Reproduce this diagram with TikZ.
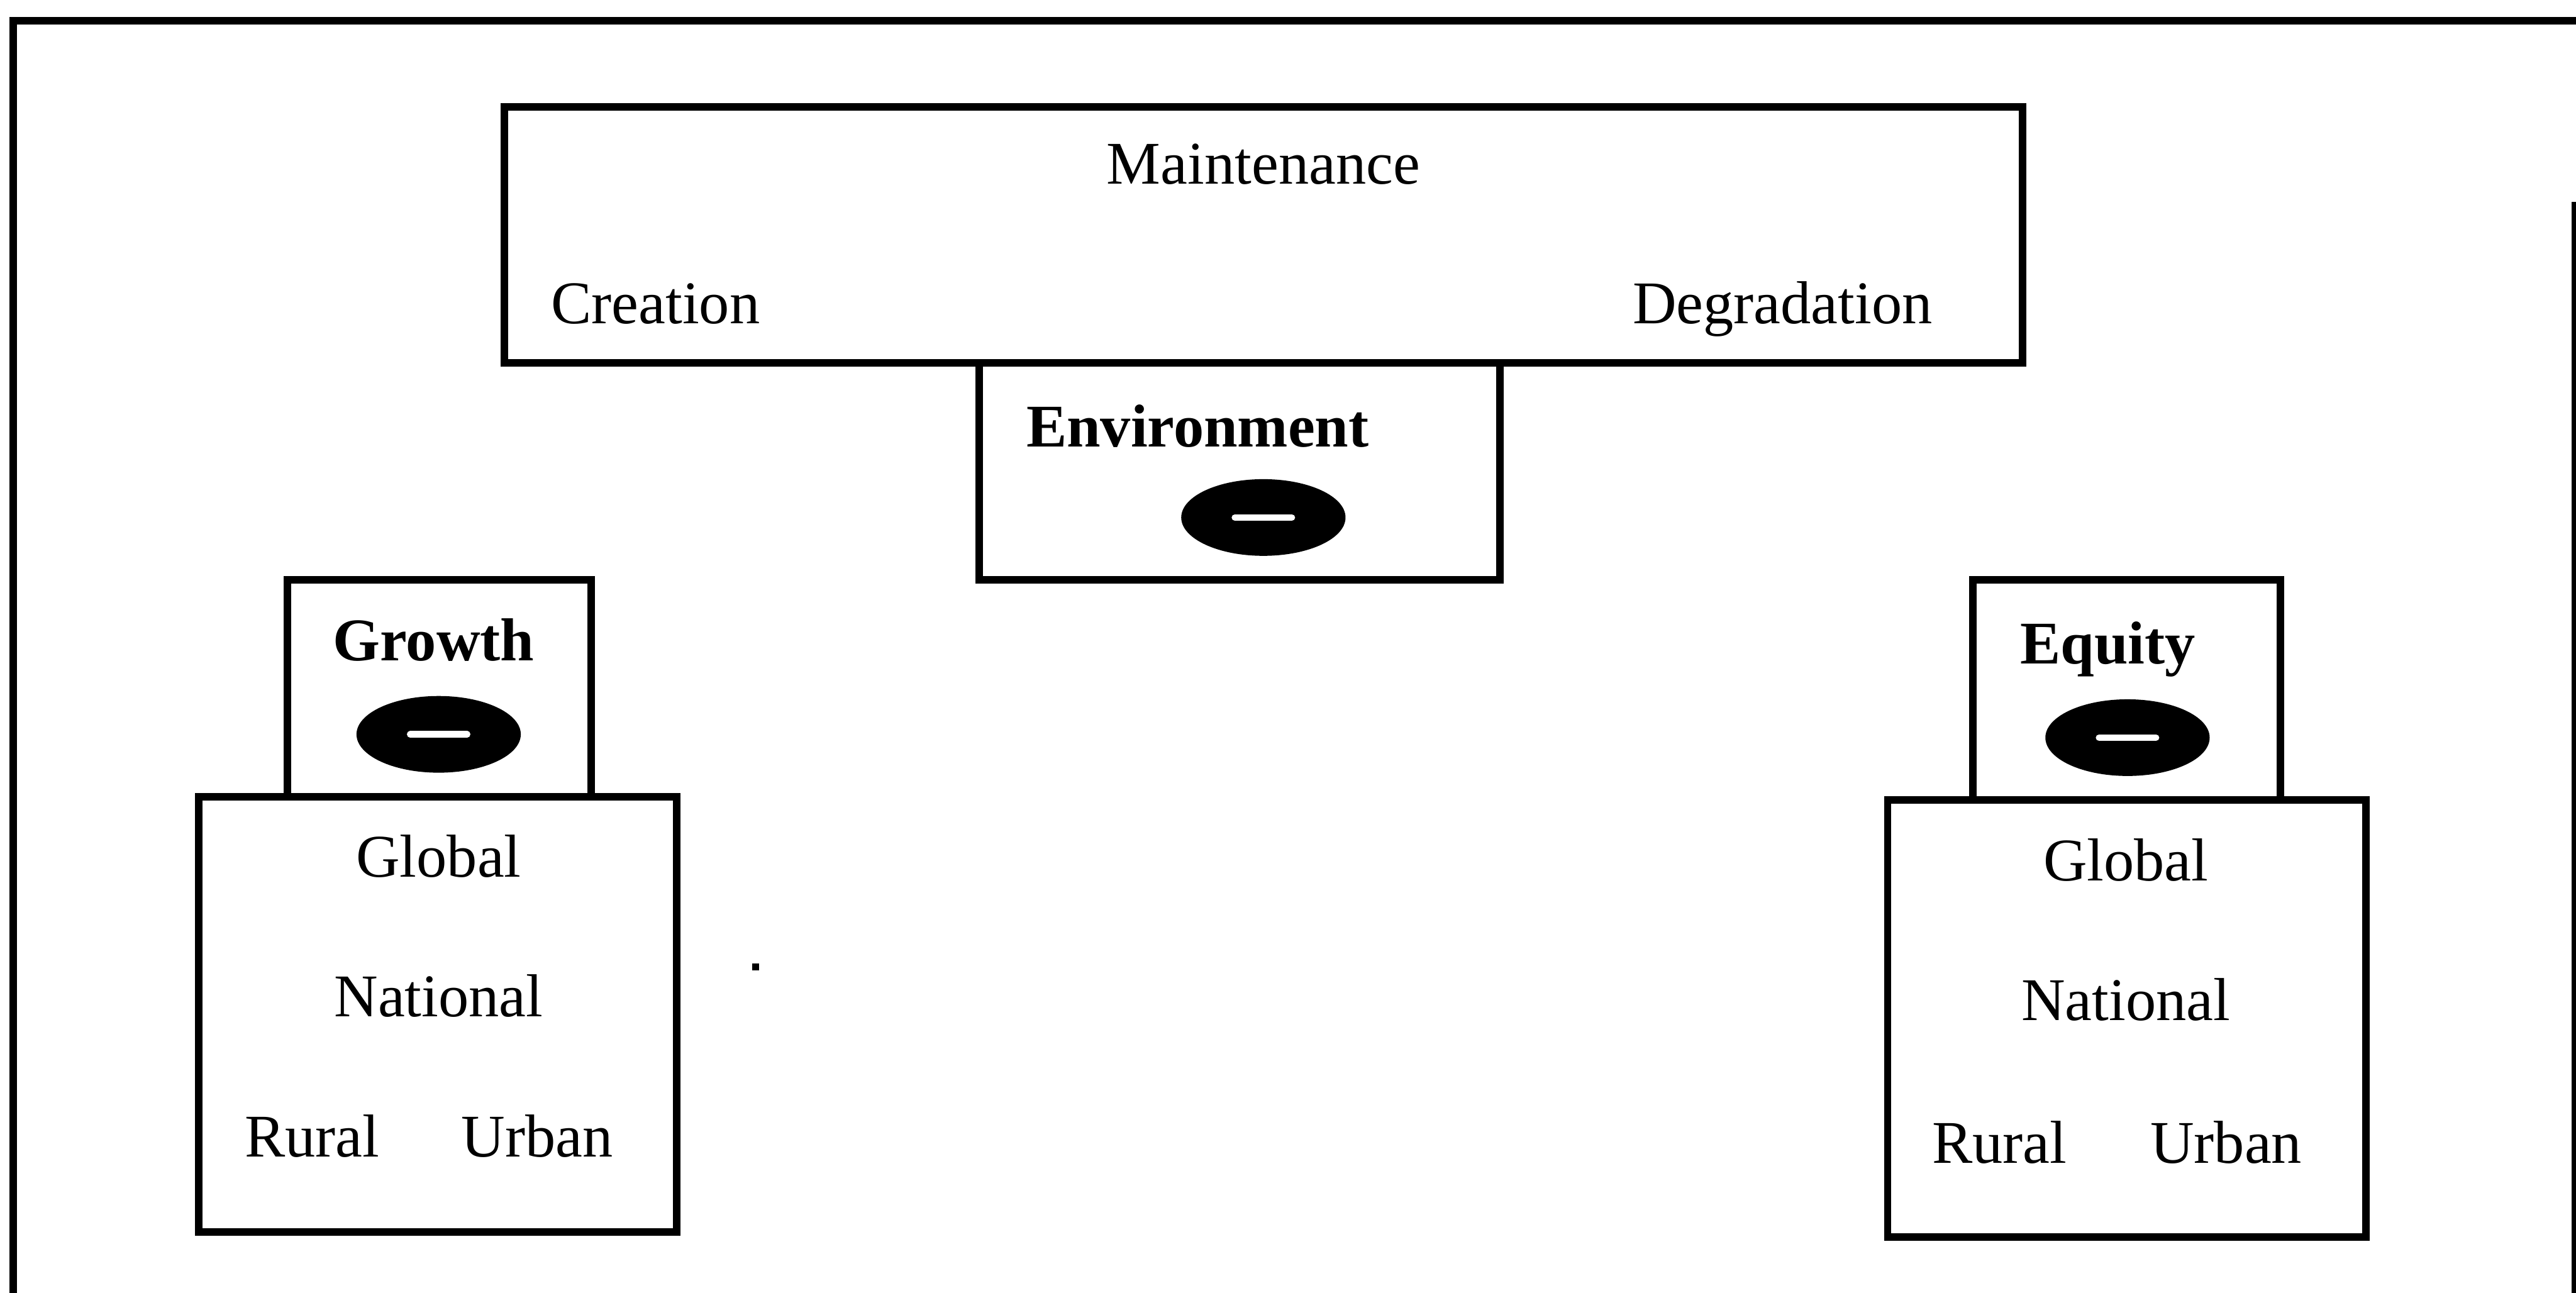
\documentclass[tikz,border=0pt]{standalone}
\usepackage{fontspec}
\setmainfont{Liberation Serif}
\usetikzlibrary{fit,shapes.geometric}
\begin{document}
\begin{tikzpicture}[x=0.03cm,y=-0.03cm,
  frame/.style={line width=4pt},
  panel/.style={draw,line width=3.9pt,inner sep=0pt},
  lbl/.style={anchor=base,inner sep=0pt,font=\fontsize{31.5}{36}\selectfont},
  head/.style={anchor=base,inner sep=0pt,font=\fontsize{31.5}{36}\selectfont\bfseries},
  minusoval/.style={ellipse,fill=black,minimum width=3cm,minimum height=1.4cm,inner sep=0pt,
    path picture={\draw[white,line width=3.4pt,line cap=round]
      ([xshift=-0.52cm]path picture bounding box.center) --
      ([xshift=0.52cm]path picture bounding box.center);}}
]
\useasboundingbox (0,0) rectangle (1568,787);

% outer frame
\draw[frame] (8,790) -- (8,12.5) -- (1570,12.5);
\draw[frame] (1567.5,123) -- (1567.5,790);

% environment: top panel and its tab
\node[panel, fit={(307,65) (1231,221)}] (maint) {};
\node[panel, fit={(596,221) (913,353)}] (env) {};
\node[lbl] (maintenance) at (769,112) {Maintenance};
\node[lbl] (creation) at (399,197) {Creation};
\node[lbl] (degradation) at (1085,197) {Degradation};
\node[head] (envlabel) at (729,272) {Environment};
\node[minusoval] (envsign) at (769,315) {};

% growth: tab and scale panel
\node[panel, fit={(175,353) (360,485)}] (growth) {};
\node[panel, fit={(121,485) (412,750)}] (gscale) {};
\node[head] (growthlabel) at (264,402) {Growth};
\node[minusoval] (growthsign) at (267,447) {};
\node[lbl] (gglobal) at (267,534) {Global};
\node[lbl] (gnational) at (267,619) {National};
\node[lbl] (grural) at (190,704) {Rural};
\node[lbl] (gurban) at (327,704) {Urban};

% equity: tab and scale panel
\node[panel, fit={(1201,353) (1388,487)}] (equity) {};
\node[panel, fit={(1149,487) (1440,753)}] (escale) {};
\node[head] (equitylabel) at (1283,404) {Equity};
\node[minusoval] (equitysign) at (1295,449) {};
\node[lbl] (eglobal) at (1294,536) {Global};
\node[lbl] (enational) at (1294,621) {National};
\node[lbl] (erural) at (1217,708) {Rural};
\node[lbl] (eurban) at (1355,708) {Urban};

% small stray mark
\fill (458,586.5) rectangle (462,590.5);
\end{tikzpicture}
\end{document}
